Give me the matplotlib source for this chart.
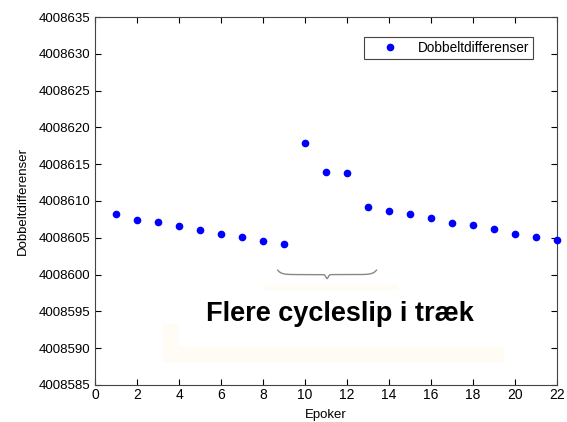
import numpy as np
import matplotlib.pyplot as plt
from matplotlib.patches import Rectangle

plt.rcParams['font.family'] = ['Liberation Sans', 'DejaVu Sans']

epoker = list(range(1, 23))
dd = [4008608.2, 4008607.4, 4008607.1, 4008606.6, 4008606.1, 4008605.5,
      4008605.1, 4008604.6, 4008604.1, 4008617.9, 4008614.0, 4008613.8,
      4008609.2, 4008608.7, 4008608.2, 4008607.7, 4008607.0, 4008606.8,
      4008606.15, 4008605.5, 4008605.15, 4008604.7]
yticks = list(range(4008585, 4008636, 5))
xticks = list(range(0, 23, 2))

fig = plt.figure(figsize=(5.67, 4.22), dpi=100)
ax = fig.add_axes([0.1676, 0.0877, 0.8148, 0.872])

# faint background boxes behind the annotation
ax.add_patch(Rectangle((8.0, 4008598.1), 6.4, 0.5, color='#fffcf6', zorder=0))
ax.add_patch(Rectangle((3.25, 4008588.3), 16.2, 5.0, color='#fffcf6', zorder=0))
ax.add_patch(Rectangle((3.95, 4008590.4), 15.5, 3.0, color='white', zorder=0))

ax.plot(epoker, dd, 'o', color='#0000ff', markersize=4.5, label='Dobbeltdifferenser',
        clip_on=False, zorder=3)

# brace over the cycle slips
xs = np.linspace(8.7, 13.4, 200)
mid = (8.7 + 13.4) / 2
yb = 4008600.6 - 0.6 * (1 - np.exp(-np.abs(xs - 8.7) * 6)) * (1 - np.exp(-np.abs(xs - 13.4) * 6))
yb = yb - 0.55 * np.exp(-((xs - mid) / 0.08) ** 2)
ax.plot(xs, yb, color='#888888', lw=1.0)

ax.text(mid + 0.6, 4008594.6, 'Flere cycleslip i træk', fontsize=19.5, fontweight='bold',
        ha='center', va='center', color='black')

ax.set_xlim(0, 22)
ax.set_ylim(4008585, 4008635)
ax.set_xticks(xticks)
ax.set_yticks(yticks)
ax.ticklabel_format(useOffset=False, style='plain', axis='y')
ax.tick_params(direction='in', top=True, right=True, length=4, width=0.8)
ax.tick_params(axis='y', labelsize=9.5)
ax.tick_params(axis='x', labelsize=10, pad=2)
for s in ax.spines.values():
    s.set_color('#444444')

ax.set_xlabel('Epoker', fontsize=9.5, labelpad=5)
ax.set_ylabel('Dobbeltdifferenser', fontsize=9.5, labelpad=7)

leg = ax.legend(loc='upper right', bbox_to_anchor=(0.948, 0.9457), borderaxespad=0,
                fontsize=9.8, fancybox=False, edgecolor='#444444', framealpha=1,
                handletextpad=0.4, borderpad=0.3, handlelength=3.2)
leg.get_frame().set_linewidth(0.8)

fig.savefig('out.png', dpi=100)
